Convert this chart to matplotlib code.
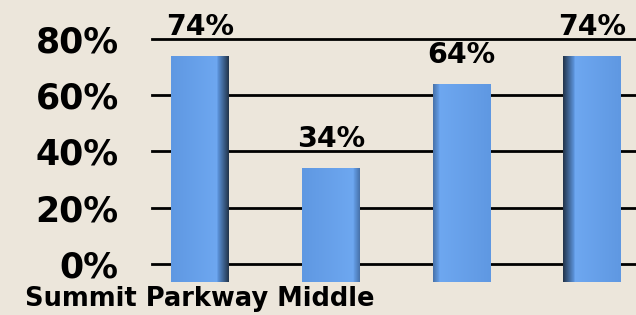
import numpy as np
import matplotlib
matplotlib.use("Agg")
import matplotlib.pyplot as plt
from matplotlib.colors import to_rgb

categories = ["Summit Parkway Middle", "", "", ""]
values = [74, 34, 64, 74]
yticks = [0, 20, 40, 60, 80]

bg = "#ECE6DB"
bar_light = np.array(to_rgb("#78B2FA"))
bar_mid = np.array(to_rgb("#5F98E2"))
bar_dark = np.array(to_rgb("#22344A"))

fig = plt.figure(figsize=(6.36, 3.15), dpi=100, facecolor=bg)
ax = fig.add_axes([0.239, 0.105, 0.761, 0.771])
ax.set_facecolor(bg)

x = np.arange(len(values))
width = 0.44
base = 6.5  # depth of the 3D base below the zero line

for y in yticks:
    ax.axhline(y, color="black", lw=2.0, zorder=1, clip_on=False)

bars = ax.bar(x, np.array(values) + base, bottom=-base, width=width,
              color=bar_mid, zorder=2)

# fake the 3D shading with a horizontal gradient clipped to each bar
mid = (len(values) - 1) / 2
for xi, rect in zip(x, bars):
    side = (xi - mid) / mid
    t = np.linspace(0, 1, 200)
    if side < 0:
        t = 1 - t
    edge = 0.06 + 0.14 * abs(side)
    cols = np.empty((1, len(t), 3))
    for k, tk in enumerate(t):
        if tk < edge:
            c = bar_dark * (1 - tk / edge) + bar_mid * (tk / edge) if abs(side) > 0.5 \
                else bar_mid * 0.75 + bar_light * 0.25 * (tk / edge)
        else:
            s = (tk - edge) / (1 - edge)
            c = bar_light * (1 - s) * 0.6 + bar_mid * (0.4 + 0.6 * s)
        cols[0, k] = c
    x0, y0 = rect.get_x(), rect.get_y()
    im = ax.imshow(cols, extent=(x0, x0 + rect.get_width(), y0, y0 + rect.get_height()),
                   aspect="auto", zorder=3, interpolation="bilinear")
    im.set_clip_path(rect)

for xi, v in zip(x, values):
    ax.annotate(f"{v}%", (xi, v), xytext=(0, 11), textcoords="offset points",
                ha="center", va="bottom", fontsize=20.5, fontweight="bold",
                annotation_clip=False, zorder=4)

ax.set_xlim(-0.367, 3.337)
ax.set_ylim(-base, 80)
ax.set_yticks(yticks)
ax.set_yticklabels([f"{t}%" for t in yticks], fontsize=25, fontweight="bold")
ax.set_xticks(x)
ax.set_xticklabels(categories, fontsize=18.5, fontweight="bold")
ax.tick_params(axis="y", length=0, pad=24)
ax.tick_params(axis="x", length=0, pad=3)
for sp in ax.spines.values():
    sp.set_visible(False)

fig.savefig("out.png", dpi=100, facecolor=bg)
